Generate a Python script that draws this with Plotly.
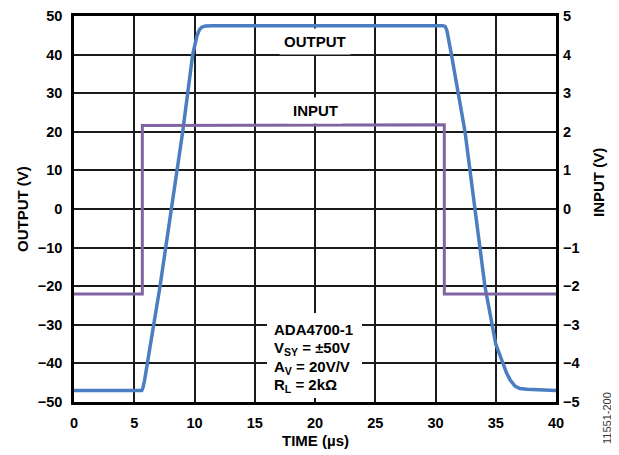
import plotly.graph_objects as go

# Data
time_out = [0, 5.62, 5.72, 5.85, 7.14, 9.02, 9.85, 10.2, 10.4, 10.6, 10.9, 11.5, 30.6, 30.8, 30.95, 31.3, 32.45, 34.1, 35.0, 35.5, 35.9, 36.2, 36.6, 37.0, 37.6, 40]
output_v = [-47, -47, -46.3, -44.5, -20, 20, 40, 44.8, 46.4, 47.1, 47.4, 47.5, 47.5, 47.3, 46.2, 40.4, 20, -20, -35, -39.1, -42.5, -44.3, -45.9, -46.5, -46.7, -47]

time_in = [0, 5.67, 5.67, 30.73, 30.73, 40]
input_v = [-2.2, -2.2, 2.16, 2.18, -2.2, -2.2]

x_ticks = [0, 5, 10, 15, 20, 25, 30, 35, 40]
y1_ticks = [-50, -40, -30, -20, -10, 0, 10, 20, 30, 40, 50]
y2_ticks = [-5, -4, -3, -2, -1, 0, 1, 2, 3, 4, 5]

spec_lines = ["ADA4700-1", "V<sub>SY</sub> = ±50V", "A<sub>V</sub> = 20V/V", "R<sub>L</sub> = 2kΩ"]

FONT = "Liberation Sans, Arial, sans-serif"
tickfont = dict(family=FONT, size=14.5, color="black", weight="bold")
lab = dict(family=FONT, size=15, color="black", weight="bold")

fig = go.Figure()
fig.add_trace(go.Scatter(x=time_in, y=input_v, mode="lines", yaxis="y2",
                         line=dict(color="#8064a2", width=3), showlegend=False))
fig.add_trace(go.Scatter(x=time_out, y=output_v, mode="lines", yaxis="y",
                         line=dict(color="#4a7ec0", width=3.5), showlegend=False))

OFF = 8  # default page body margin
W, H = 619 - OFF, 455 - OFF
L, R, T, B = 74 - OFF, 63, 16 - OFF, 53
pw, ph = W - L - R, H - T - B

grid = "#1a1a1a"
fig.update_layout(
    width=W, height=H,
    margin=dict(l=L, r=R, t=T, b=B, autoexpand=False),
    paper_bgcolor="white", plot_bgcolor="white",
    font=dict(family=FONT, color="black"),
    xaxis=dict(range=[0, 40], tickvals=x_ticks, showgrid=True, gridcolor=grid, gridwidth=1.5,
               zeroline=False, showline=True, linecolor="black", linewidth=2.5, mirror=True,
               ticks="", tickfont=tickfont, ticklabelstandoff=6, automargin=False),
    yaxis=dict(range=[-50, 50], tickvals=y1_ticks, showgrid=True, gridcolor=grid, gridwidth=1.5,
               zeroline=False, showline=True, linecolor="black", linewidth=2.5, mirror=True,
               ticks="", tickfont=tickfont, ticklabelstandoff=6, automargin=False),
    yaxis2=dict(range=[-5, 5], tickvals=y2_ticks, overlaying="y", side="right", showgrid=False,
                zeroline=False, showline=False, ticks="", tickfont=tickfont, ticklabelstandoff=6,
                automargin=False),
)

def px(xp):
    return (xp - OFF - L) / pw

def py(yp):
    return (OFF + H - B - yp) / ph

def note(xp, yp, text, font, xanchor="center", angle=0):
    fig.add_annotation(x=px(xp), y=py(yp), xref="paper", yref="paper", text=text,
                       xanchor=xanchor, yanchor="middle", textangle=angle,
                       align="left", showarrow=False, font=font)

# axis titles
note(22, 209, "OUTPUT (V)", lab, angle=-90)
note(598, 183, "INPUT (V)", lab, angle=-90)
note(315, 441, "TIME (µs)", lab)

# in-plot labels
fig.add_annotation(x=20, y=43.3, xref="x", yref="y", text="OUTPUT", showarrow=False,
                   xanchor="center", yanchor="middle", font=lab, bgcolor="white", borderpad=4)
fig.add_annotation(x=20, y=25.6, xref="x", yref="y", text="INPUT", showarrow=False,
                   xanchor="center", yanchor="middle", font=lab, bgcolor="white", borderpad=4)

# white backing box behind the spec block (covers gridlines)
fig.add_shape(type="rect", xref="paper", yref="paper", layer="above",
              x0=px(267), x1=px(362), y0=py(398), y1=py(313),
              fillcolor="white", line=dict(width=0))

# spec block, one annotation per line
spec_y = [329, 348, 367, 385]
for txt, yp in zip(spec_lines, spec_y):
    note(272, yp, txt, lab, xanchor="left")

note(607, 418, "11551-200", dict(family=FONT, size=11, color="#333333"), angle=-90)

fig.write_html("out.html")
